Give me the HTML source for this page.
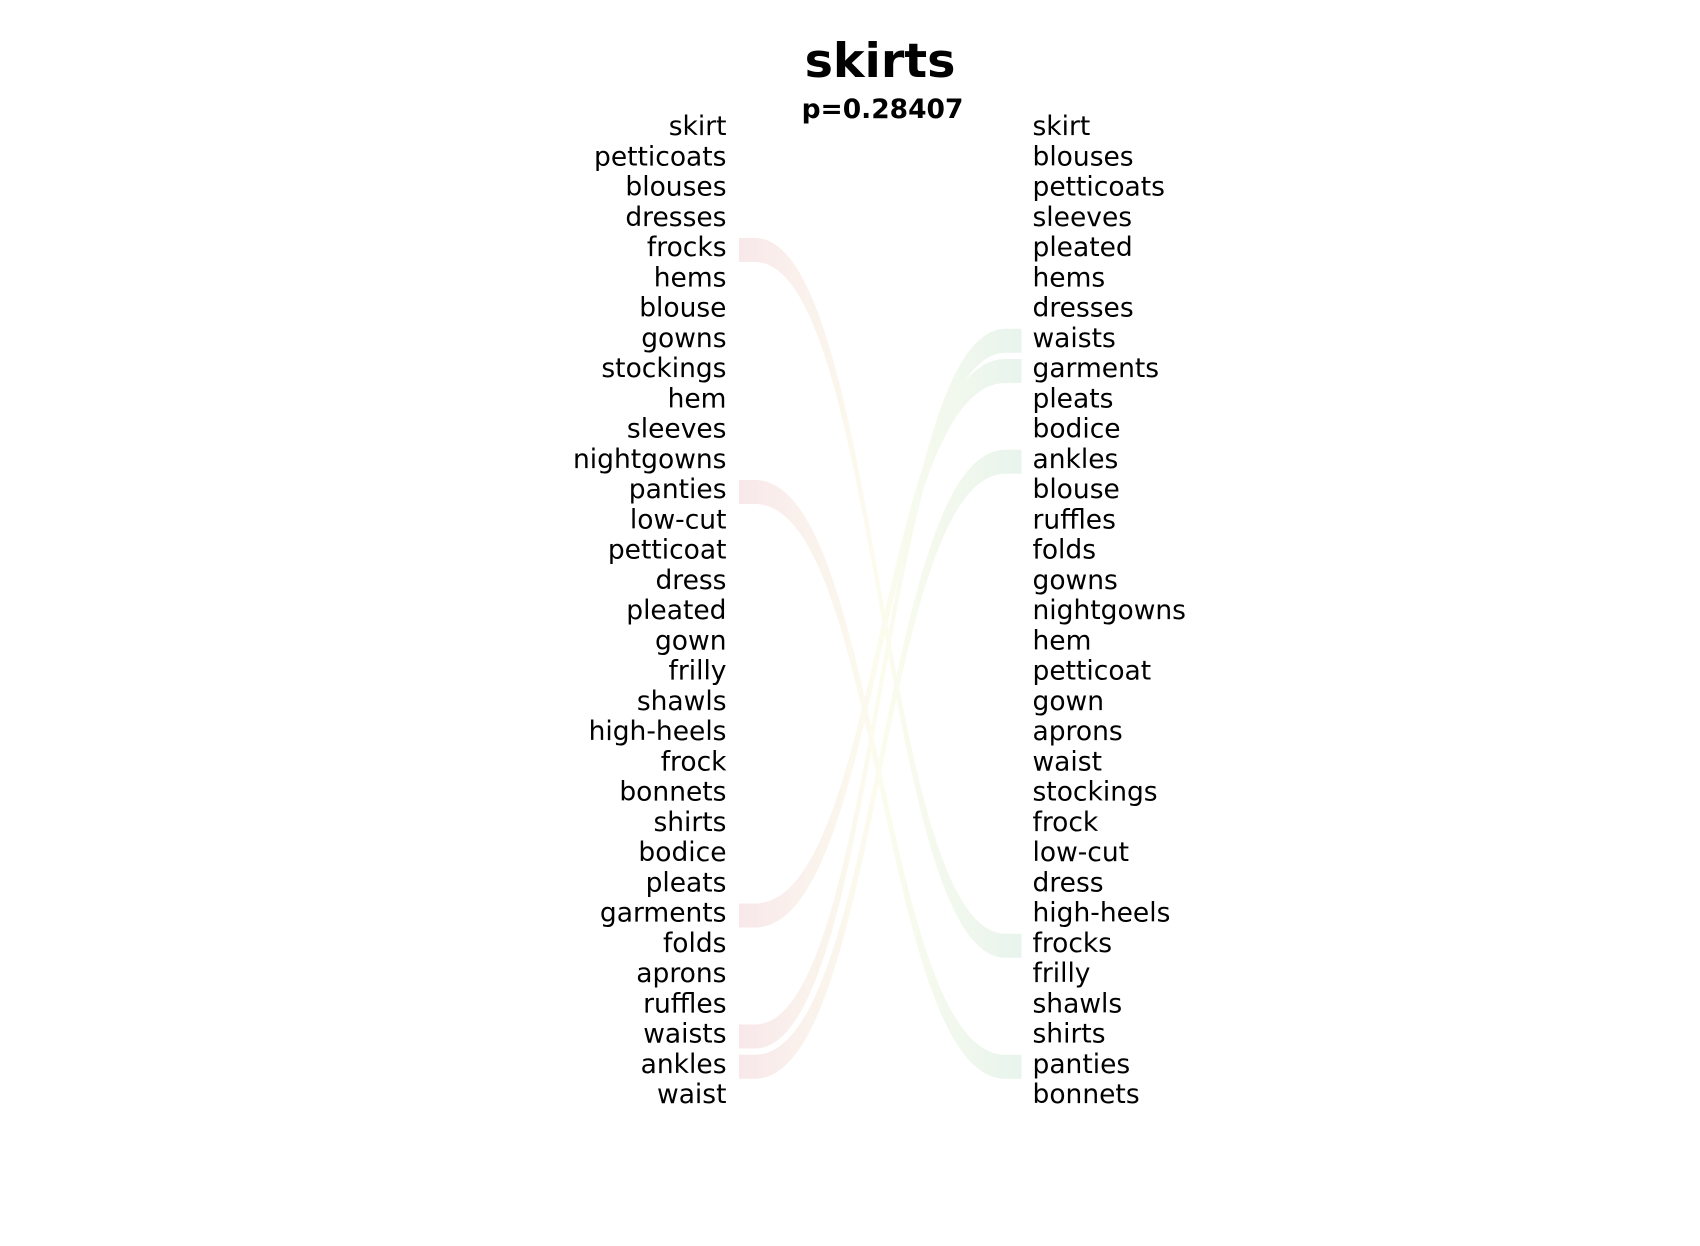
<!DOCTYPE html>
<html><head><meta charset="utf-8"><style>
html,body{margin:0;padding:0;background:#fff;}
svg{display:block;font-family:"DejaVu Sans","Liberation Sans",sans-serif;}
</style></head><body>
<svg id="chart" width="1700" height="1246" viewBox="0 0 1700 1246">
<defs>
<linearGradient id="flowGrad" x1="739" y1="0" x2="1021" y2="0" gradientUnits="userSpaceOnUse">
<stop offset="0" stop-color="#f8e8ea"/>
<stop offset="0.5" stop-color="#fcfcee"/>
<stop offset="1" stop-color="#e8f4ed"/>
</linearGradient>
</defs>
<text x="880" y="77" text-anchor="middle" font-size="47.6" font-weight="bold">skirts</text>
<text x="882.5" y="118" text-anchor="middle" font-size="26.5" font-weight="bold">p=0.28407</text>
<g id="flows"></g>
<g id="left"></g>
<g id="right"></g>
</svg>
<script>
const leftWords = ["skirt","petticoats","blouses","dresses","frocks","hems","blouse","gowns","stockings","hem","sleeves","nightgowns","panties","low-cut","petticoat","dress","pleated","gown","frilly","shawls","high-heels","frock","bonnets","shirts","bodice","pleats","garments","folds","aprons","ruffles","waists","ankles","waist"];
const rightWords = ["skirt","blouses","petticoats","sleeves","pleated","hems","dresses","waists","garments","pleats","bodice","ankles","blouse","ruffles","folds","gowns","nightgowns","hem","petticoat","gown","aprons","waist","stockings","frock","low-cut","dress","high-heels","frocks","frilly","shawls","shirts","panties","bonnets"];
const flowWords = ["frocks","panties","garments","waists","ankles"];

const NS = "http://www.w3.org/2000/svg";
const y0 = 135, step = 30.25;
function rowY(i){ return y0 + i*step; }
const leftX = 726.5, rightX = 1032.5, bandL = 739, bandR = 1021.5, half = 12;

const gl = document.getElementById('left');
leftWords.forEach((w,i)=>{
  const t = document.createElementNS(NS,'text');
  t.setAttribute('x', leftX); t.setAttribute('y', rowY(i));
  t.setAttribute('text-anchor','end'); t.setAttribute('font-size','26.5');
  t.textContent = w;
  
  
  gl.appendChild(t);
});
const gr = document.getElementById('right');
rightWords.forEach((w,i)=>{
  const t = document.createElementNS(NS,'text');
  t.setAttribute('x', rightX); t.setAttribute('y', rowY(i));
  t.setAttribute('font-size','26.5');
  t.textContent = w;
  
  
  gr.appendChild(t);
});
const gf = document.getElementById('flows');
flowWords.forEach(w=>{
  const li = leftWords.indexOf(w), ri = rightWords.indexOf(w);
  const yl = rowY(li) - 6, yr = rowY(ri) - 6;
  const a = bandL + 16, b = bandR - 16, m = (a+b)/2;
  const d = `M${bandL},${yl-half} L${a},${yl-half} C${m},${yl-half} ${m},${yr-half} ${b},${yr-half} L${bandR},${yr-half} L${bandR},${yr+half} L${b},${yr+half} C${m},${yr+half} ${m},${yl+half} ${a},${yl+half} L${bandL},${yl+half} Z`;
  const p = document.createElementNS(NS,'path');
  p.setAttribute('d', d);
  p.setAttribute('fill', 'url(#flowGrad)');
  
  
  gf.appendChild(p);
});
</script>
</body></html>
